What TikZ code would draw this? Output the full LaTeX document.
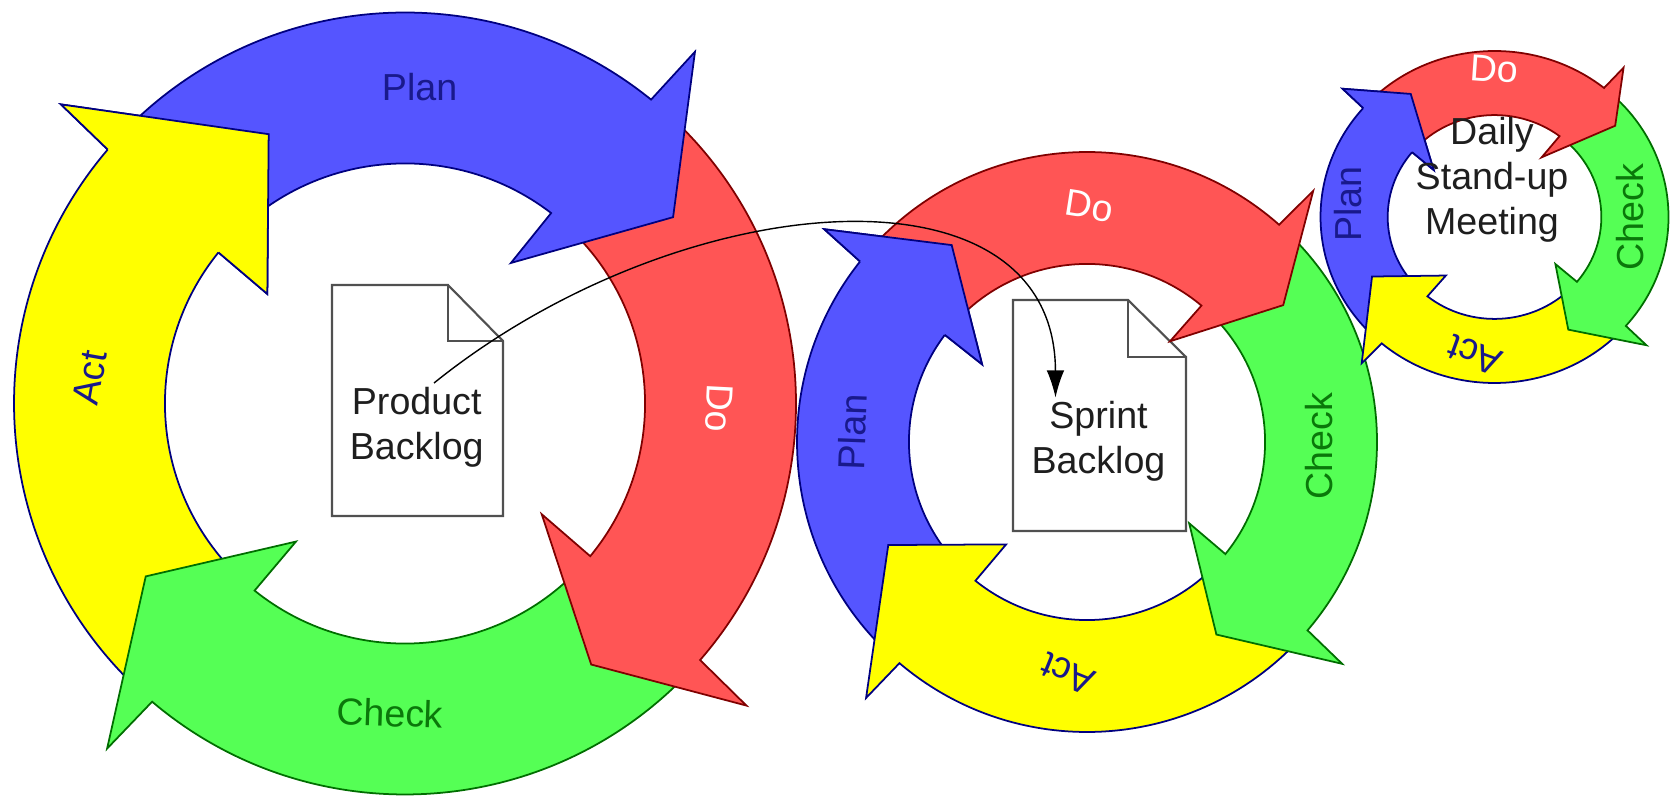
\documentclass[tikz,border=0pt]{standalone}
\usepackage{fontspec}
\setmainfont{Liberation Sans}
\usetikzlibrary{arrows.meta}

\definecolor{planfill}{RGB}{85,85,255}
\definecolor{dofill}{RGB}{255,85,85}
\definecolor{checkfill}{RGB}{85,255,85}
\definecolor{actfill}{RGB}{255,255,0}
\definecolor{navyline}{RGB}{0,0,128}
\definecolor{redline}{RGB}{128,0,0}
\definecolor{greenline}{RGB}{0,110,0}
\definecolor{navytext}{RGB}{25,25,140}
\definecolor{greentext}{RGB}{10,120,10}
\definecolor{docgray}{RGB}{80,80,80}
\definecolor{doctext}{RGB}{30,30,30}

\tikzset{
  pdca/.style={line width=0.5pt, line join=miter},
  planarrow/.style={pdca, fill=planfill, draw=navyline},
  doarrow/.style={pdca, fill=dofill, draw=redline},
  checkarrow/.style={pdca, fill=checkfill, draw=greenline},
  actarrow/.style={pdca, fill=actfill, draw=navyline},
  lbl/.style={font=\fontsize{10.7}{12.8}\selectfont, inner sep=0pt},
  planlbl/.style={lbl, text=navytext},
  dolbl/.style={lbl, text=white},
  checklbl/.style={lbl, text=greentext},
  actlbl/.style={lbl, text=navytext},
  doclbl/.style={lbl, align=center, text=doctext},
  docline/.style={draw=docgray, line width=0.6pt},
}

% one arrow of a cycle: style, tail angle, base angle, tip angle, tip radius
\newcommand{\pdcaarrow}[5]{%
  \draw[#1] (#2:1) arc[start angle=#2, end angle=#3, radius=1]
    -- ({#3-0.5}:1.166) -- (#4:#5) -- ({#3+2}:0.45) -- ({#3+1.5}:0.614)
    arc[start angle={#3+1.5}, end angle=#2, radius=0.614] -- cycle;}
% head only, laid again over the tail of the next arrow
\newcommand{\pdcahead}[4]{%
  \draw[#1] (#2:1) -- ({#2-0.5}:1.166) -- (#3:#4) -- ({#2+2}:0.45) -- ({#2+1.5}:0.614);}

\begin{document}
\begin{tikzpicture}
\useasboundingbox[fill=white] (0,0) rectangle (16.72,-8);

% product backlog page
\draw[docline, fill=white] (3.32,-2.85) -- (4.48,-2.85) -- (5.03,-3.41) -- (5.03,-5.16) -- (3.32,-5.16) -- cycle;
\draw[docline] (4.48,-2.85) -- (4.48,-3.41) -- (5.03,-3.41);
% sprint backlog page
\draw[docline, fill=white] (10.13,-3.00) -- (11.28,-3.00) -- (11.86,-3.57) -- (11.86,-5.31) -- (10.13,-5.31) -- cycle;
\draw[docline] (11.28,-3.00) -- (11.28,-3.57) -- (11.86,-3.57);

% big cycle
\begin{scope}[shift={(4.05,-4.035)}, scale=3.91]
\pdcaarrow{actarrow}{226.2}{139.5}{116.85}{0.772}
\pdcaarrow{checkarrow}{-44.5}{-130.3}{-146.3}{0.797}
\pdcaarrow{doarrow}{47.5}{-41}{-54.5}{0.82}
\pdcaarrow{planarrow}{136}{51}{34.8}{0.835}
\pdcahead{actarrow}{139.5}{116.85}{0.772}
\end{scope}

% sprint cycle
\begin{scope}[shift={(10.87,-4.42)}, scale=2.90]
\pdcaarrow{planarrow}{226.2}{141.5}{124.5}{0.824}
\pdcaarrow{actarrow}{-44}{-130.3}{-152.6}{0.772}
\pdcaarrow{checkarrow}{45}{-40.5}{-56.1}{0.80}
\pdcaarrow{doarrow}{138}{48.5}{34.9}{0.825}
\pdcahead{planarrow}{141.5}{124.5}{0.824}
\end{scope}

% daily cycle
\begin{scope}[shift={(14.945,-2.17)}, xscale=1.74, yscale=1.66]
\pdcaarrow{planarrow}{226.1}{139}{123}{0.884}
\pdcaarrow{actarrow}{-44.5}{-130.4}{-153}{0.79}
\pdcaarrow{checkarrow}{47.5}{-41}{-58}{0.80}
\pdcaarrow{doarrow}{135.5}{51}{38.4}{0.885}
\pdcahead{planarrow}{139}{123}{0.884}
\end{scope}

% labels
\node[planlbl] (bigplan) at (4.196,-0.87) {Plan};
\node[dolbl, rotate=-93] (bigdo) at (7.19,-4.08) {Do};
\node[checklbl, rotate=-2] (bigcheck) at (3.90,-7.13) {Check};
\node[actlbl, rotate=80] (bigact) at (0.90,-3.78) {Act};
\node[doclbl] (pbtext) at (4.167,-4.275) {Product\\Backlog};

\node[dolbl, rotate=-9] (sprintdo) at (10.89,-2.06) {Do};
\node[planlbl, rotate=88] (sprintplan) at (8.52,-4.32) {Plan};
\node[checklbl, rotate=90] (sprintcheck) at (13.19,-4.46) {Check};
\node[actlbl, rotate=158] (sprintact) at (10.68,-6.74) {Act};
\node[doclbl] (sbtext) at (10.985,-4.41) {Sprint\\Backlog};

\node[dolbl, rotate=-4] (dailydo) at (14.94,-0.69) {Do};
\node[planlbl, rotate=90] (dailyplan) at (13.48,-2.04) {Plan};
\node[checklbl, rotate=90] (dailycheck) at (16.30,-2.17) {Check};
\node[actlbl, rotate=160] (dailyact) at (14.75,-3.55) {Act};
\node[doclbl] (dstext) at (14.92,-1.80) {Daily\\Stand-up\\Meeting};

% backlog items go into the sprint
\coordinate (pbout) at (4.34,-3.83);
\coordinate (sbin) at (10.555,-3.975);
\draw[-{Latex[length=7.7pt,width=5pt]}, line width=0.4pt] (pbout) .. controls (6.80,-1.85) and (10.55,-1.55) .. (sbin);
\end{tikzpicture}
\end{document}
